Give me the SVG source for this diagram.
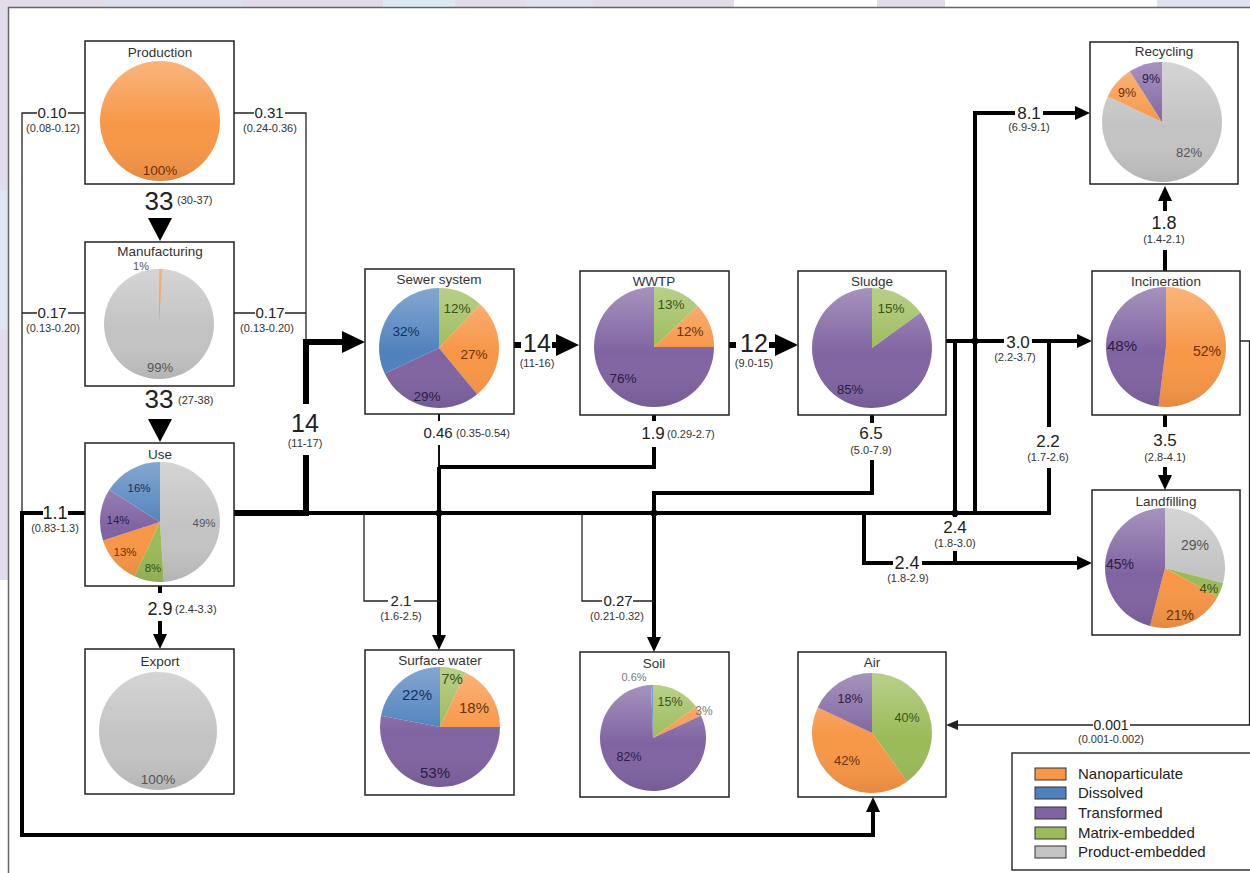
<svg xmlns="http://www.w3.org/2000/svg" width="1250" height="873" viewBox="0 0 1250 873">
<defs>
<style>
text{font-family:"Liberation Sans",Arial,Helvetica,sans-serif}
.box{fill:#fff;stroke:#222;stroke-width:1.5}
.ttl{font-size:13.5px;fill:#333;text-anchor:middle}
.pl{text-anchor:middle}
.o{fill:#F79646}.b{fill:#4F81BD}.p{fill:#8064A2}.g{fill:#9BBB59}.y{fill:#C3C3C3}
.to{fill:#6a3108}.tb{fill:#14305a}.tp{fill:#2b1c45}.tg{fill:#3b5218}.ty{fill:#555}
.sh{fill:url(#shade)}
.t{fill:none;stroke:#222;stroke-width:1.3}
.m{fill:none;stroke:#111;stroke-width:2}
.k{fill:none;stroke:#000;stroke-width:4}
.x{fill:none;stroke:#000;stroke-width:6}
.v{fill:#222;text-anchor:middle}
.rg{font-size:11px;fill:#333}
.dot{fill:#000}
.lg{font-size:15px;fill:#222}
.sw{stroke:#333;stroke-width:1}
</style>
<linearGradient id="shade" x1="0" y1="0" x2="0" y2="1">
<stop offset="0" stop-color="#fff" stop-opacity="0.3"/>
<stop offset="0.55" stop-color="#fff" stop-opacity="0"/>
<stop offset="1" stop-color="#000" stop-opacity="0.08"/>
</linearGradient>
<marker id="ah" markerUnits="userSpaceOnUse" viewBox="0 0 15 14" markerWidth="15" markerHeight="14" refX="8" refY="7" orient="auto"><path d="M0,0 L15,7 L0,14 Z" fill="#000"/></marker>
<marker id="ahB" markerUnits="userSpaceOnUse" viewBox="0 0 23 22" markerWidth="23" markerHeight="22" refX="13" refY="11" orient="auto"><path d="M0,0 L23,11 L0,22 Z" fill="#000"/></marker>
<marker id="ahS" markerUnits="userSpaceOnUse" viewBox="0 0 12 10" markerWidth="12" markerHeight="10" refX="6" refY="5" orient="auto"><path d="M0,0 L12,5 L0,10 Z" fill="#222"/></marker>
</defs>

<g id="background">
<rect x="0" y="0" width="1250" height="873" fill="#fff"/>
<rect x="0" y="0" width="104" height="8" fill="#e4dce8"/>
<rect x="104" y="0" width="139" height="8" fill="#dfe0ef"/>
<rect x="243" y="0" width="140" height="8" fill="#e2dae8"/>
<rect x="383" y="0" width="72" height="8" fill="#dde8f2"/>
<rect x="455" y="0" width="71" height="8" fill="#e4dce8"/>
<rect x="526" y="0" width="68" height="8" fill="#e0e2ef"/>
<rect x="594" y="0" width="140" height="8" fill="#e3dbe8"/>
<rect x="877" y="0" width="68" height="8" fill="#e3dbe8"/>
<rect x="1157" y="0" width="93" height="8" fill="#dfe2f1"/>
<rect x="0" y="0" width="8" height="190" fill="#e3dcea"/>
<rect x="0" y="190" width="8" height="140" fill="#dde8f2"/>
<rect x="0" y="330" width="8" height="250" fill="#e3dcea"/>
<rect x="8.5" y="7.5" width="1260" height="880" fill="#fff" stroke="#666" stroke-width="1.5"/>
</g>

<g id="connectors">
<polygon points="148,218 172,218 160,241" fill="#000"/>
<polygon points="148,419 172,419 160,442" fill="#000"/>
<path class="t" d="M85,113 H68 M37,113 H22 V513 M85,313 H68 M37,313 H22"/>
<path class="t" d="M234,113 H254 M285,113 H306 V342 M234,313 H255 M285,313 H306"/>
<path class="k" d="M85,513 H68 M43,513 H22 V835 H873 V804" marker-end="url(#ah)"/>
<path class="x" d="M234,513 H306 V455"/>
<path class="x" d="M306,404 V342 H355" marker-end="url(#ahB)"/>
<path class="k" d="M306,513 H1049 V468 M1049,427 V341"/>
<path class="x" d="M514,345 H521"/>
<path class="x" d="M552,345 H569" marker-end="url(#ahB)"/>
<path class="x" d="M729,345 H736"/>
<path class="x" d="M769,345 H788" marker-end="url(#ahB)"/>
<path class="m" d="M439,414 V421 M439,445 V467"/>
<path class="k" d="M439,467 V643" marker-end="url(#ah)"/>
<path class="k" d="M654,415 V421 M654,447 V467 H439"/>
<path class="k" d="M872,415 V423 M872,460 V493 H654 V645" marker-end="url(#ah)"/>
<path class="t" d="M364,513 V601 H388 M414,601 H439"/>
<path class="t" d="M582,513 V601 H602 M633,601 H654"/>
<path class="k" d="M864,513 V563 H893 M922,563 H1085" marker-end="url(#ah)"/>
<path class="k" d="M955,341 V517 M955,551 V563"/>
<path class="k" d="M946,341 H1004 M1032,341 H1085" marker-end="url(#ah)"/>
<path class="k" d="M975,513 V113 H1015 M1043,113 H1083" marker-end="url(#ah)"/>
<path class="k" d="M1165,271 V250 M1165,211 V193" marker-end="url(#ah)"/>
<path class="k" d="M1165,415 V427 M1165,467 V483" marker-end="url(#ah)"/>
<path class="k" d="M160,586 V593 M160,621 V642" marker-end="url(#ah)"/>
<path class="t" d="M1240,341 H1249.5 V725 H1130 M1093,725 H952" marker-end="url(#ahS)"/>
<circle class="dot" cx="439" cy="513" r="3.5"/>
<circle class="dot" cx="654" cy="513" r="3.5"/>
<circle class="dot" cx="955" cy="513" r="3.5"/>
<circle class="dot" cx="975" cy="341" r="3.5"/>

<text class="v" x="52" y="118" font-size="15">0.10</text>
<text class="v rg" x="53" y="132">(0.08-0.12)</text>
<text class="v" x="52" y="318" font-size="15">0.17</text>
<text class="v rg" x="53" y="332">(0.13-0.20)</text>
<text class="v" x="269" y="118" font-size="15">0.31</text>
<text class="v rg" x="270" y="132">(0.24-0.36)</text>
<text class="v" x="270" y="318" font-size="15">0.17</text>
<text class="v rg" x="267" y="332">(0.13-0.20)</text>
<text class="v" x="55" y="519" font-size="18">1.1</text>
<text class="v rg" x="55" y="532">(0.83-1.3)</text>
<text class="v" x="159" y="210" font-size="26" fill="#111">33</text>
<text class="rg" x="177" y="204">(30-37)</text>
<text class="v" x="159" y="408" font-size="26" fill="#111">33</text>
<text class="rg" x="178" y="404">(27-38)</text>
<text class="v" x="305" y="432" font-size="25" fill="#111">14</text>
<text class="v rg" x="305" y="447">(11-17)</text>
<text class="v" x="537" y="352" font-size="25" fill="#111">14</text>
<text class="v rg" x="537" y="367">(11-16)</text>
<text class="v" x="754" y="352" font-size="25" fill="#111">12</text>
<text class="v rg" x="754" y="367">(9.0-15)</text>
<text class="v" x="438" y="438" font-size="15">0.46</text>
<text class="rg" x="456" y="437">(0.35-0.54)</text>
<text class="v" x="653" y="439" font-size="17">1.9</text>
<text class="rg" x="667" y="438">(0.29-2.7)</text>
<text class="v" x="871" y="439" font-size="17">6.5</text>
<text class="v rg" x="871" y="454">(5.0-7.9)</text>
<text class="v" x="1018" y="348" font-size="17">3.0</text>
<text class="v rg" x="1015" y="361">(2.2-3.7)</text>
<text class="v" x="1048" y="447" font-size="17">2.2</text>
<text class="v rg" x="1048" y="461">(1.7-2.6)</text>
<text class="v" x="1029" y="119" font-size="17">8.1</text>
<text class="v rg" x="1029" y="131">(6.9-9.1)</text>
<text class="v" x="1164" y="229" font-size="18">1.8</text>
<text class="v rg" x="1164" y="243">(1.4-2.1)</text>
<text class="v" x="1165" y="446" font-size="17">3.5</text>
<text class="v rg" x="1165" y="461">(2.8-4.1)</text>
<text class="v" x="955" y="533" font-size="17">2.4</text>
<text class="v rg" x="955" y="547">(1.8-3.0)</text>
<text class="v" x="907" y="569" font-size="18">2.4</text>
<text class="v rg" x="908" y="582">(1.8-2.9)</text>
<text class="v" x="401" y="606" font-size="15">2.1</text>
<text class="v rg" x="401" y="620">(1.6-2.5)</text>
<text class="v" x="618" y="606" font-size="15">0.27</text>
<text class="v rg" x="617" y="620">(0.21-0.32)</text>
<text class="v" x="160" y="615" font-size="18">2.9</text>
<text class="rg" x="175" y="613">(2.4-3.3)</text>
<text class="v" x="1111" y="730" font-size="14">0.001</text>
<text class="v rg" x="1111" y="743">(0.001-0.002)</text>
</g>

<g id="production">
<rect class="box" x="85" y="41" width="149" height="143"/>
<text class="ttl" x="160" y="57">Production</text>
<circle class="o" cx="160" cy="121" r="60"/>
<circle class="sh" cx="160" cy="121" r="60"/>
<text class="pl to" x="160" y="175" font-size="13.5">100%</text>
</g>

<g id="manufacturing">
<rect class="box" x="85" y="242" width="149" height="144"/>
<text class="ttl" x="160" y="256">Manufacturing</text>
<circle class="y" cx="159" cy="324" r="55"/>
<path class="o" d="M159,324 L159,269 A55,55 0 0,1 162.45,269.1 Z"/>
<circle class="sh" cx="159" cy="324" r="55"/>
<text class="pl ty" x="141" y="270" font-size="11">1%</text>
<text class="pl ty" x="160" y="372" font-size="13">99%</text>
</g>

<g id="use">
<rect class="box" x="85" y="443" width="149" height="143"/>
<text class="ttl" x="160" y="459">Use</text>
<path class="y" d="M160,522 L160,462 A60,60 0 0,1 163.77,581.88 Z"/>
<path class="g" d="M160,522 L163.77,581.88 A60,60 0 0,1 134.45,576.29 Z"/>
<path class="o" d="M160,522 L134.45,576.29 A60,60 0 0,1 102.94,540.54 Z"/>
<path class="p" d="M160,522 L102.94,540.54 A60,60 0 0,1 109.34,489.85 Z"/>
<path class="b" d="M160,522 L109.34,489.85 A60,60 0 0,1 160,462 Z"/>
<circle class="sh" cx="160" cy="522" r="60"/>
<text class="pl tb" x="139" y="492" font-size="11.5">16%</text>
<text class="pl tp" x="118" y="524" font-size="11.5">14%</text>
<text class="pl to" x="125" y="556" font-size="11.5">13%</text>
<text class="pl tg" x="153" y="572" font-size="11.5">8%</text>
<text class="pl ty" x="204" y="527" font-size="11.5">49%</text>
</g>

<g id="export">
<rect class="box" x="85" y="649" width="149" height="145"/>
<text class="ttl" x="160" y="666">Export</text>
<circle class="y" cx="158" cy="731" r="59"/>
<circle class="sh" cx="158" cy="731" r="59"/>
<text class="pl ty" x="158" y="784" font-size="13.5">100%</text>
</g>

<g id="sewer-system">
<rect class="box" x="365" y="269" width="149" height="145"/>
<text class="ttl" x="439" y="284">Sewer system</text>
<path class="g" d="M439,348 L439,288 A60,60 0 0,1 480.07,304.26 Z"/>
<path class="o" d="M439,348 L480.07,304.26 A60,60 0 0,1 477.24,394.23 Z"/>
<path class="p" d="M439,348 L477.24,394.23 A60,60 0 0,1 384.71,373.55 Z"/>
<path class="b" d="M439,348 L384.71,373.55 A60,60 0 0,1 439,288 Z"/>
<circle class="sh" cx="439" cy="348" r="60"/>
<text class="pl tg" x="457" y="313" font-size="13.5">12%</text>
<text class="pl tb" x="406" y="336" font-size="13.5">32%</text>
<text class="pl to" x="474" y="359" font-size="13.5">27%</text>
<text class="pl tp" x="427" y="401" font-size="13.5">29%</text>
</g>

<g id="wwtp">
<rect class="box" x="580" y="271" width="149" height="144"/>
<text class="ttl" x="654" y="286">WWTP</text>
<path class="g" d="M654,347 L654,287 A60,60 0 0,1 697.74,305.93 Z"/>
<path class="o" d="M654,347 L697.74,305.93 A60,60 0 0,1 714,347 Z"/>
<path class="p" d="M654,347 L714,347 A60,60 0 1,1 654,287 Z"/>
<circle class="sh" cx="654" cy="347" r="60"/>
<text class="pl tg" x="671" y="309" font-size="13.5">13%</text>
<text class="pl to" x="690" y="336" font-size="13.5">12%</text>
<text class="pl tp" x="623" y="383" font-size="13.5">76%</text>
</g>

<g id="sludge">
<rect class="box" x="798" y="271" width="148" height="144"/>
<text class="ttl" x="872" y="286">Sludge</text>
<path class="g" d="M872,348 L872,288 A60,60 0 0,1 920.54,312.73 Z"/>
<path class="p" d="M872,348 L920.54,312.73 A60,60 0 1,1 872,288 Z"/>
<circle class="sh" cx="872" cy="348" r="60"/>
<text class="pl tg" x="891" y="313" font-size="13.5">15%</text>
<text class="pl tp" x="850" y="394" font-size="13">85%</text>
</g>

<g id="incineration">
<rect class="box" x="1092" y="271" width="148" height="144"/>
<text class="ttl" x="1166" y="286">Incineration</text>
<path class="o" d="M1166,347 L1166,287 A60,60 0 1,1 1158.48,406.53 Z"/>
<path class="p" d="M1166,347 L1158.48,406.53 A60,60 0 0,1 1166,287 Z"/>
<circle class="sh" cx="1166" cy="347" r="60"/>
<text class="pl tp" x="1122" y="351" font-size="15">48%</text>
<text class="pl to" x="1207" y="356" font-size="14">52%</text>
</g>

<g id="recycling">
<rect class="box" x="1090" y="42" width="148" height="142"/>
<text class="ttl" x="1164" y="56">Recycling</text>
<path class="y" d="M1162,122 L1162,62 A60,60 0 1,1 1107.71,96.45 Z"/>
<path class="o" d="M1162,122 L1107.71,96.45 A60,60 0 0,1 1129.85,71.34 Z"/>
<path class="p" d="M1162,122 L1129.85,71.34 A60,60 0 0,1 1162,62 Z"/>
<circle class="sh" cx="1162" cy="122" r="60"/>
<text class="pl tp" x="1151" y="83" font-size="12.5">9%</text>
<text class="pl to" x="1127" y="97" font-size="12.5">9%</text>
<text class="pl ty" x="1189" y="157" font-size="13">82%</text>
</g>

<g id="landfilling">
<rect class="box" x="1092" y="490" width="148" height="145"/>
<text class="ttl" x="1166" y="506">Landfilling</text>
<path class="y" d="M1165,568 L1165,508 A60,60 0 0,1 1223.12,582.92 Z"/>
<path class="g" d="M1165,568 L1223.12,582.92 A60,60 0 0,1 1217.58,596.91 Z"/>
<path class="o" d="M1165,568 L1217.58,596.91 A60,60 0 0,1 1150.08,626.12 Z"/>
<path class="p" d="M1165,568 L1150.08,626.12 A60,60 0 0,1 1165,508 Z"/>
<circle class="sh" cx="1165" cy="568" r="60"/>
<text class="pl ty" x="1195" y="550" font-size="14">29%</text>
<text class="pl tp" x="1120" y="569" font-size="14">45%</text>
<text class="pl tg" x="1209" y="593" font-size="13">4%</text>
<text class="pl to" x="1180" y="620" font-size="14">21%</text>
</g>

<g id="surface-water">
<rect class="box" x="365" y="650" width="149" height="145"/>
<text class="ttl" x="440" y="665">Surface water</text>
<path class="g" d="M440,727 L440,667 A60,60 0 0,1 465.55,672.71 Z"/>
<path class="o" d="M440,727 L465.55,672.71 A60,60 0 0,1 500,727 Z"/>
<path class="p" d="M440,727 L500,727 A60,60 0 1,1 381.06,715.76 Z"/>
<path class="b" d="M440,727 L381.06,715.76 A60,60 0 0,1 440,667 Z"/>
<circle class="sh" cx="440" cy="727" r="60"/>
<text class="pl tg" x="452" y="684" font-size="15">7%</text>
<text class="pl tb" x="417" y="700" font-size="15">22%</text>
<text class="pl to" x="474" y="713" font-size="15">18%</text>
<text class="pl tp" x="435" y="778" font-size="15">53%</text>
</g>

<g id="soil">
<rect class="box" x="580" y="652" width="149" height="145"/>
<text class="ttl" x="654" y="668">Soil</text>
<path class="g" d="M653,738 L653,685 A53,53 0 0,1 695.88,706.85 Z"/>
<path class="o" d="M653,738 L695.88,706.85 A53,53 0 0,1 700.95,715.43 Z"/>
<path class="p" d="M653,738 L700.95,715.43 A53,53 0 1,1 651,685.04 Z"/>
<path class="b" d="M653,738 L651,685.04 A53,53 0 0,1 653,685 Z"/>
<circle class="sh" cx="653" cy="738" r="53"/>
<text class="pl" x="634" y="681" font-size="11" fill="#777">0.6%</text>
<text class="pl tg" x="670" y="706" font-size="12.5">15%</text>
<text class="pl" x="704" y="715" font-size="12" fill="#777">3%</text>
<text class="pl tp" x="629" y="761" font-size="12.5">82%</text>
</g>

<g id="air">
<rect class="box" x="798" y="652" width="148" height="145"/>
<text class="ttl" x="872" y="667">Air</text>
<path class="g" d="M872,733 L872,673 A60,60 0 0,1 907.27,781.54 Z"/>
<path class="o" d="M872,733 L907.27,781.54 A60,60 0 0,1 817.71,707.45 Z"/>
<path class="p" d="M872,733 L817.71,707.45 A60,60 0 0,1 872,673 Z"/>
<circle class="sh" cx="872" cy="733" r="60"/>
<text class="pl tp" x="850" y="703" font-size="12.5">18%</text>
<text class="pl tg" x="907" y="722" font-size="12.5">40%</text>
<text class="pl to" x="847" y="765" font-size="13">42%</text>
</g>

<g id="legend">
<rect x="1012" y="753" width="245" height="117" fill="#fff" stroke="#333" stroke-width="1.5"/>
<rect class="o sw" x="1035" y="768" width="31" height="12"/>
<rect class="b sw" x="1035" y="787" width="31" height="12"/>
<rect class="p sw" x="1035" y="807" width="31" height="12"/>
<rect class="g sw" x="1035" y="827" width="31" height="12"/>
<rect class="y sw" x="1035" y="846" width="31" height="12"/>
<text class="lg" x="1078" y="779">Nanoparticulate</text>
<text class="lg" x="1078" y="798">Dissolved</text>
<text class="lg" x="1078" y="818">Transformed</text>
<text class="lg" x="1078" y="838">Matrix-embedded</text>
<text class="lg" x="1078" y="857">Product-embedded</text>
</g>
</svg>
